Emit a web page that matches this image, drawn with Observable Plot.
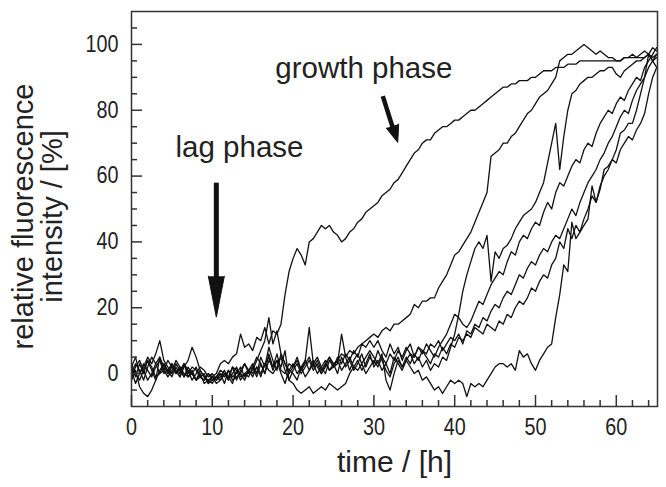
<!DOCTYPE html>
<html><head><meta charset="utf-8">
<script src="https://cdn.jsdelivr.net/npm/d3@7"></script>
<script src="https://cdn.jsdelivr.net/npm/@observablehq/plot@0.6"></script>
<style>html,body{margin:0;padding:0;background:#fff;}</style>
</head><body><div id="chart"></div>
<script>
const time = [0,0.5,1,1.5,2,2.5,3,3.5,4,4.5,5,5.5,6,6.5,7,7.5,8,8.5,9,9.5,10,10.5,11,11.5,12,12.5,13,13.5,14,14.5,15,15.5,16,16.5,17,17.5,18,18.5,19,19.5,20,20.5,21,21.5,22,22.5,23,23.5,24,24.5,25,25.5,26,26.5,27,27.5,28,28.5,29,29.5,30,30.5,31,31.5,32,32.5,33,33.5,34,34.5,35,35.5,36,36.5,37,37.5,38,38.5,39,39.5,40,40.5,41,41.5,42,42.5,43,43.5,44,44.5,45,45.5,46,46.5,47,47.5,48,48.5,49,49.5,50,50.5,51,51.5,52,52.5,53,53.5,54,54.5,55,55.5,56,56.5,57,57.5,58,58.5,59,59.5,60,60.5,61,61.5,62,62.5,63,63.5,64,64.5,65];

const seriesA = [2,-1,3,0,4,1,-2,5,2,0, 3,1,-1,2,4,8,5,1,-1,-2, -1,0,3,4,3,5,6,12,8,9, 7,11,10,14,9,13,12,15,24,31, 35,38,36,33,40,41,43,45,44,45, 43,42,40,41,43,44,46,47,49,50, 51,52,54,55,56,58,59,61,63,65, 67,68,70,71,71,73,74,75,75,76, 77,77,78,79,80,80,81,82,83,84, 85,86,87,87,88,88,89,89,89,90, 90,91,92,92,92,93,93,93,94,94, 94,95,95,95,95,95,95,95,95,95, 95,95,96,96,96,96,96,96,97,96, 97];
const seriesB = [0,3,1,-2,2,5,3,0,1,4, 2,0,1,3,-1,0,2,-1,-2,0, -2,-1,1,0,-2,2,1,0,3,1, 2,5,3,0,4,2,6,1,0,3, 2,4,1,3,5,2,4,1,3,5, 3,4,6,5,7,6,8,9,10,11, 12,11,13,14,13,15,15,16,17,18, 21,20,22,22,23,23,26,28,30,33, 36,37,39,41,43,46,49,52,55,66, 67,68,70,70,72,73,75,77,79,80, 82,84,85,86,88,90,95,96,97,97, 98,99,100,99,98,97,98,97,96,96, 95,95,96,96,97,96,97,98,97,99, 98];
const seriesC = [1,-3,0,2,5,3,6,10,4,2, 0,3,1,-1,2,0,-2,1,-1,-3, -2,-1,0,-3,1,-1,0,2,-1,1, 3,0,5,2,8,4,1,6,3,0, 2,5,1,4,14,3,0,2,4,1, 3,0,5,2,4,1,3,6,2,5, 3,7,4,1,-1,3,5,2,4,6, 3,5,2,4,1,3,2,5,4,8, 12,18,25,30,34,38,40,38,42,28, 37,35,38,39,41,44,46,48,49,50, 52,55,58,64,70,76,62,72,80,85, 86,88,89,90,90,91,92,92,93,93, 91,90,92,93,94,95,95,96,97,95, 96];
const seriesD = [-1,2,4,1,-2,0,3,5,1,-1, 1,4,2,0,-1,1,-2,0,-3,-2, -3,-1,-2,0,-1,2,-2,1,3,0, 1,4,7,10,17,9,13,6,3,1, 0,-2,2,4,1,3,5,2,0,4, 2,5,3,6,4,7,5,9,8,10, 8,10,7,5,9,6,8,4,7,9, 5,8,6,9,7,5,8,10,12,15, 18,17,15,14,16,19,22,21,24,27, 29,31,30,34,37,36,40,42,41,44, 46,45,49,52,50,55,58,57,60,63, 65,64,68,70,69,73,76,78,80,79, 82,84,83,86,88,90,89,93,95,97, 99];
const seriesE = [3,0,-2,1,4,2,-1,0,3,1, -1,2,0,3,1,-2,0,2,1,-1, 0,-2,-1,1,-2,0,2,-1,0,1, -1,2,0,3,5,1,4,2,7,-2, -3,-5,-6,-5,-4,-6,-5,-4,-5,-3, -4,-5,-4,-3,0,2,1,3,0,2, 4,2,5,3,6,4,7,5,8,6, 5,8,7,6,9,8,10,7,9,11, 10,12,9,13,12,15,14,17,16,19, 21,20,23,25,24,27,30,29,32,34, 33,36,38,37,40,42,41,44,47,50, 48,52,55,58,60,62,65,67,70,72, 75,78,80,79,83,86,88,90,93,95, 97];
const seriesF = [-2,1,-4,-6,-7,-5,-2,1,3,0, 2,1,-1,3,0,2,1,-1,-2,0, -1,-3,-2,0,-1,-3,1,-2,0,-1, 2,-1,3,0,6,2,4,0,-3,1, 3,0,2,-1,1,4,2,0,3,1, 2,3,12,5,1,4,6,3,5,7, 5,3,6,-2,-5,0,4,2,5,3, 6,4,7,5,3,6,5,8,6,9, 8,11,10,12,11,14,13,12,15,14, 13,16,15,18,17,20,22,21,23,26, 25,28,30,29,33,35,40,38,44,41, 45,43,47,50,54,52,57,60,62,65, 64,68,70,72,71,74,76,79,85,90, 93];
const seriesG = [2,5,0,3,1,-1,2,4,0,1, 3,0,2,-1,1,0,-2,-1,0,-3, -1,-2,0,-1,1,-2,-1,0,-2,1, 0,2,-1,3,1,0,2,5,1,-2, 1,3,0,2,4,1,3,0,2,5, 2,4,1,3,5,2,4,1,3,6, 2,4,1,3,0,5,3,1,4,2, 0,1,-2,-1,-3,-5,-4,-6,-4,-2, -3,-2,-3,-7,-3,-4,-3,-4,-2,0, 2,3,3,2,3,1,7,5,6,3, 1,4,6,8,9,17,24,33,31,46, 41,43,45,47,57,52,56,62,63,65, 68,73,74,76,76,80,85,90,97,95, 93];

const seriesNames = ["1","2","3","4","5","6","7"];
const seriesValues = [seriesA, seriesB, seriesC, seriesD, seriesE, seriesF, seriesG];

const xMajorTicks = [0,10,20,30,40,50,60];
const xMinorTicks = [2,4,6,8,12,14,16,18,22,24,26,28,32,34,36,38,42,44,46,48,52,54,56,58,62,64];
const yMajorTicks = [0,20,40,60,80,100];
const yMinorTicks = [-5,5,10,15,25,30,35,45,50,55,65,70,75,85,90,95,105];

const xTitle = "time / [h]";
const yTitle = "relative fluorescence\nintensity / [%]";

const annotLabels = ["lag phase", "growth phase"];
const annotX = [5.45, 17.8];
const annotY = [65.9, 89.8];

const lagShaft = [{x1: 10.5, y1: 58, x2: 10.5, y2: 29}];
const lagHead = [{x: 10.5, y: 29.6}];
const growthShaft = [{x1: 31.1, y1: 84.3, x2: 32.35, y2: 74.6}];
const growthHead = [{x: 32.3, y: 75.2}];

const data = seriesNames.flatMap((name, k) => seriesValues[k].map((v, i) => ({t: time[i], v, s: name})));
const annotations = annotLabels.map((text, i) => ({text, x: annotX[i], y: annotY[i]}));

const ink = "#111";
const axisInk = "#333";

const chart = Plot.plot({
  width: 666,
  height: 487,
  marginLeft: 131,
  marginRight: 9,
  marginTop: 11,
  marginBottom: 81,
  style: {fontFamily: "'Liberation Sans', Arial, sans-serif", background: "#fff", color: "#222"},
  x: {domain: [0, 65.1]},
  y: {domain: [-10, 110]},
  marks: [
    Plot.line(data, {x: "t", y: "v", z: "s", stroke: ink, strokeWidth: 1.3, strokeLinejoin: "round"}),
    Plot.frame({stroke: axisInk, strokeWidth: 1.5}),
    Plot.axisX(xMajorTicks, {tickSize: -11, fill: null, stroke: axisInk, strokeWidth: 1.5}),
    Plot.axisX(xMinorTicks, {tickSize: -6, fill: null, stroke: axisInk, strokeWidth: 1.5}),
    Plot.axisY(yMajorTicks, {tickSize: -11, fill: null, stroke: axisInk, strokeWidth: 1.5}),
    Plot.axisY(yMinorTicks, {tickSize: -6, fill: null, stroke: axisInk, strokeWidth: 1.5}),
    Plot.axisX(xMajorTicks, {tickSize: 0, tickPadding: 12, fontSize: 23, label: null, fill: "#222"}),
    Plot.axisY(yMajorTicks, {tickSize: 0, tickPadding: 13, fontSize: 23, label: null, fill: "#222"}),
    Plot.text([xTitle], {frameAnchor: "bottom", lineAnchor: "bottom", dy: 65, fontSize: 30, fill: "#222"}),
    Plot.text([yTitle], {frameAnchor: "left", textAnchor: "middle", lineAnchor: "middle", rotate: -90, dx: -93, dy: 7.5, fontSize: 29, lineHeight: 1.0, fill: "#222"}),
    Plot.text(annotations, {x: "x", y: "y", text: "text", textAnchor: "start", lineAnchor: "bottom", fontSize: 29.5, fill: "#222"}),
    Plot.link(lagShaft, {x1: "x1", y1: "y1", x2: "x2", y2: "y2", stroke: ink, strokeWidth: 5}),
    Plot.vector(lagHead, {x: "x", y: "y", anchor: "start", shape: "spike", length: 41, r: 8, rotate: 180, fill: ink, stroke: ink, strokeWidth: 1}),
    Plot.link(growthShaft, {x1: "x1", y1: "y1", x2: "x2", y2: "y2", stroke: ink, strokeWidth: 4.5}),
    Plot.vector(growthHead, {x: "x", y: "y", anchor: "start", shape: "spike", length: 17, r: 6.5, rotate: 162, fill: ink, stroke: ink, strokeWidth: 1})
  ]
});

chart.querySelectorAll('g[aria-label="x-axis tick label"] text, g[aria-label="y-axis tick label"] text').forEach((t) => {
  const tr = t.getAttribute("transform") || "";
  t.setAttribute("transform", tr + " scale(0.86,1)");
});

document.getElementById("chart").appendChild(chart);
</script>
</body></html>
